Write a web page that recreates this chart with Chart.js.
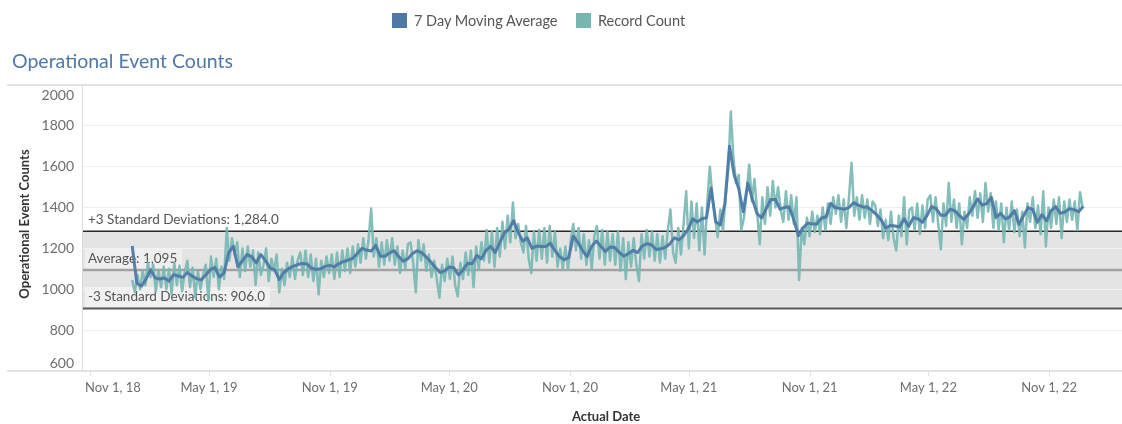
<!DOCTYPE html>
<html>
<head>
<meta charset="utf-8">
<title>Operational Event Counts</title>
<script src="https://cdn.jsdelivr.net/npm/chart.js@4.4.1/dist/chart.umd.min.js"></script>
<style>
  body { margin: 0; background: #fff; font-family: Lato, sans-serif; }
  #wrap { position: relative; width: 1122px; height: 424px; overflow: hidden; }
  #chart { position: absolute; left: 0; top: 0; }
  .title { position: absolute; left: 12px; top: 51px; font-size: 19.5px; line-height: 19px; color: #4e79a7; white-space: nowrap; }
  .legend-item { position: absolute; top: 14px; font-size: 14.5px; line-height: 14px; color: #555; white-space: nowrap; }
  .swatch { position: absolute; top: 13px; width: 15px; height: 15px; }
</style>
</head>
<body>
<div id="wrap">
  <canvas id="chart" width="1122" height="424"></canvas>
  <div class="swatch" style="left:392px; background:#4e79a7"></div>
  <div class="legend-item" style="left:414px">7 Day Moving Average</div>
  <div class="swatch" style="left:576px; background:#76b7b2"></div>
  <div class="legend-item" style="left:598px">Record Count</div>
  <div class="title">Operational Event Counts</div>
</div>
<script>
// x axis: tick dates and their labels
const xTickDates = ['2018-11-01', '2019-05-01', '2019-11-01', '2020-05-01', '2020-11-01',
  '2021-05-01', '2021-11-01', '2022-05-01', '2022-11-01'];
const xTickLabels = ['Nov 1, 18', 'May 1, 19', 'Nov 1, 19', 'May 1, 20', 'Nov 1, 20',
  'May 1, 21', 'Nov 1, 21', 'May 1, 22', 'Nov 1, 22'];
const xRange = ['2018-10-21', '2023-02-20'];

// y axis ticks
const yTicks = [600, 800, 1000, 1200, 1400, 1600, 1800, 2000];

// first date of both series, and spacing between readings
const firstDate = '2019-01-04';
const movingAvgStepDays = 7;
const recordStepDays = 4;

// 7 day moving average (weekly readings)
const movingAverage = [
  1212, 1030, 1015, 1050, 1095, 1055, 1050, 1055, 1040, 1072,
  1065, 1058, 1082, 1065, 1052, 1046, 1070, 1096, 1106, 1060,
  1080, 1180, 1210, 1110, 1140, 1170, 1160, 1130, 1170, 1140,
  1105, 1095, 1048, 1082, 1100, 1112, 1121, 1126, 1124, 1104,
  1097, 1100, 1112, 1117, 1110, 1126, 1136, 1143, 1152, 1175,
  1200, 1192, 1187, 1215, 1162, 1162, 1178, 1189, 1160, 1137, 1150,
  1175, 1188, 1179, 1158, 1133, 1107, 1082, 1090, 1109, 1105,
  1070, 1095, 1127, 1125, 1165, 1150, 1190, 1210, 1180, 1228,
  1276, 1295, 1335, 1280, 1235, 1252, 1200, 1212, 1210, 1210,
  1225, 1190, 1160, 1145, 1155, 1260, 1230, 1190, 1160, 1210,
  1236, 1210, 1185, 1207, 1205, 1180, 1162, 1175, 1190, 1180,
  1212, 1223, 1218, 1195, 1198, 1205, 1222, 1252, 1242, 1262,
  1295, 1345, 1329, 1345, 1350, 1496, 1330, 1315, 1420, 1700,
  1560, 1492, 1380, 1520, 1440, 1370, 1350, 1395, 1440, 1440,
  1392, 1401, 1403, 1340, 1262, 1300, 1325, 1320, 1320, 1349,
  1354, 1420, 1400, 1396, 1392, 1400, 1424, 1412, 1403, 1403, 1385,
  1365, 1340, 1300, 1312, 1310, 1305, 1345, 1308, 1350, 1345,
  1328, 1362, 1405, 1395, 1362, 1362, 1392, 1385, 1362, 1342,
  1368, 1403, 1442, 1412, 1420, 1450, 1352, 1372, 1345, 1355,
  1385, 1318, 1360, 1400, 1390, 1328, 1365, 1335, 1385, 1405,
  1372, 1378, 1395, 1390, 1380, 1405
];

// record count (one reading every 4 days)
const recordCount = [
  1045, 985, 1070, 1000, 1090, 1020, 1130,
  1060, 1120, 990, 1095, 1010, 1110, 1000,
  1100, 975, 1130, 1020, 1115, 990, 1085,
  1140, 1010, 1105, 960, 1090, 1000, 1070,
  1120, 945, 1160, 1060, 1150, 1000, 1110,
  1050, 1300, 1140, 1250, 1170, 1230, 1060,
  1200, 1090, 1210, 1110, 1190, 1020, 1180, 1070,
  1120, 1200, 1040, 1150, 1090, 1170, 985,
  1100, 1020, 1130, 1060, 1160, 1050, 1140,
  1180, 1070, 1190, 1060, 1170, 1040, 1150,
  975, 1140, 1060, 1160, 1080, 1170, 1050,
  1180, 1060, 1190, 1090, 1200, 1080, 1210,
  1110, 1220, 1130, 1250, 1150, 1240, 1395,
  1160, 1250, 1110, 1230, 1120, 1240, 1140,
  1250, 1120, 1210, 1080, 1190, 1100, 1220,
  1230, 1130, 985, 1240, 1140, 1220, 1090,
  1170, 1060, 1140, 1050, 958, 1120, 1040,
  1150, 1050, 1160, 1020, 965, 1130, 1050,
  1180, 1070, 1190, 1010, 1210, 1100, 1230,
  1140, 1290, 1130, 1280, 1110, 1300, 1160,
  1330, 1200, 1360, 1230, 1425, 1250, 1320, 1230,
  1180, 1310, 1150, 1080, 1280, 1140, 1290,
  1150, 1300, 1130, 1310, 1160, 1280, 1110,
  1200, 1100, 1210, 1095, 1240, 1320, 1190,
  1300, 1150, 1270, 1120, 1240, 1100, 1260,
  1310, 1150, 1290, 1120, 1280, 1140, 1270,
  1120, 1280, 1090, 1250, 1050, 1230, 1110,
  1250, 1120, 1040, 1270, 1150, 1290, 1160,
  1280, 1140, 1270, 1130, 1260, 1150, 1290,
  1390, 1180, 1130, 1300, 1170, 1320, 1480,
  1200, 1430, 1250, 1420, 1190, 1400, 1170,
  1420, 1600, 1450, 1350, 1255, 1390, 1290,
  1450, 1580, 1870, 1640, 1520, 1560, 1290,
  1350, 1470, 1610, 1430, 1540, 1380, 1220,
  1450, 1320, 1500, 1360, 1530, 1400, 1500, 1390,
  1330, 1480, 1340, 1460, 1320, 1450, 1045,
  1300, 1220, 1350, 1260, 1380, 1280, 1360,
  1270, 1400, 1290, 1420, 1320, 1450, 1370,
  1460, 1330, 1440, 1300, 1450, 1620, 1360,
  1450, 1340, 1460, 1350, 1440, 1320, 1430,
  1410, 1310, 1390, 1250, 1340, 1240, 1380,
  1250, 1190, 1360, 1260, 1450, 1220, 1390,
  1400, 1290, 1420, 1270, 1410, 1300, 1440,
  1460, 1330, 1450, 1320, 1195, 1420, 1310,
  1520, 1330, 1440, 1300, 1420, 1220, 1380,
  1300, 1450, 1360, 1480, 1350, 1470, 1330,
  1520, 1380, 1470, 1300, 1430, 1290, 1420,
  1230, 1400, 1290, 1430, 1280, 1390, 1260, 1380,
  1205, 1420, 1330, 1450, 1300, 1410, 1270,
  1480, 1210, 1400, 1300, 1440, 1320, 1450,
  1250, 1430, 1330, 1440, 1340, 1430, 1290,
  1475, 1400
];

// reference lines: +3 SD, average, -3 SD
const refValues = [1284.0, 1095, 906.0];
const refLabels = ['+3 Standard Deviations: 1,284.0', 'Average: 1,095', '-3 Standard Deviations: 906.0'];

const DAY = 86400000;
const origin = Date.UTC(2018, 10, 1);
function dayOf(s) {
  const [y, m, d] = s.split('-').map(Number);
  return (Date.UTC(y, m - 1, d) - origin) / DAY;
}

const start = dayOf(firstDate);
const maPoints = movingAverage.map((v, i) => ({ x: start + i * movingAvgStepDays, y: v }));
const recPoints = recordCount.map((v, i) => ({ x: start + i * recordStepDays, y: v }));

const refStyles = [
  { line: '#2a2a2a', width: 1.5, box: '#ffffff' },
  { line: '#a2a2a2', width: 2.5, box: '#efefef' },
  { line: '#5a5a5a', width: 2, box: '#f1f1f1' }
];

const frame = {
  id: 'frame',
  beforeDraw(chart) {
    const { ctx, chartArea: a, scales: { y } } = chart;
    const top = y.getPixelForValue(refValues[0]);
    const bot = y.getPixelForValue(refValues[2]);
    ctx.save();
    ctx.fillStyle = '#e4e4e4';
    ctx.fillRect(a.left, top, a.right - a.left, bot - top);
    ctx.restore();
  },
  beforeDatasetsDraw(chart) {
    const { ctx, chartArea: a, scales: { y } } = chart;
    ctx.save();
    ctx.font = '13.5px Lato';
    ctx.textBaseline = 'middle';
    refValues.forEach((v, i) => {
      const py = y.getPixelForValue(v);
      const st = refStyles[i];
      // label box sits just above its line
      const w = ctx.measureText(refLabels[i]).width;
      const boxBottom = Math.round(py) - 1;
      ctx.fillStyle = st.box;
      ctx.fillRect(a.left + 2, boxBottom - 20, w + 8, 20);
      ctx.fillStyle = '#555';
      ctx.fillText(refLabels[i], a.left + 5, boxBottom - 10);
      ctx.strokeStyle = st.line;
      ctx.lineWidth = st.width;
      ctx.beginPath();
      ctx.moveTo(a.left, py);
      ctx.lineTo(a.right, py);
      ctx.stroke();
    });
    ctx.restore();
  },
  afterDraw(chart) {
    const { ctx, chartArea: a, scales: { x, y } } = chart;
    ctx.save();
    // frame lines
    ctx.strokeStyle = '#d9d9d9';
    ctx.lineWidth = 1.5;
    ctx.beginPath();
    ctx.moveTo(7, a.top); ctx.lineTo(a.right, a.top);
    ctx.moveTo(7, a.bottom); ctx.lineTo(a.right, a.bottom);
    ctx.stroke();
    ctx.lineWidth = 1;
    ctx.strokeStyle = '#dadada';
    ctx.beginPath();
    ctx.moveTo(a.left - 0.5, a.top); ctx.lineTo(a.left - 0.5, a.bottom);
    ctx.stroke();

    // y tick labels
    ctx.fillStyle = '#6e6e6e';
    ctx.font = '14px Lato';
    ctx.textAlign = 'right';
    ctx.textBaseline = 'middle';
    yTicks.forEach(v => {
      let py = y.getPixelForValue(v);
      py = Math.min(Math.max(py, a.top + 10), a.bottom - 8);
      ctx.fillText(String(v), 74, py);
    });

    // x tick marks and labels
    ctx.font = '13px Lato';
    ctx.textAlign = 'left';
    ctx.strokeStyle = '#e2e2e2';
    xTickDates.forEach((d, i) => {
      const px = x.getPixelForValue(dayOf(d));
      ctx.beginPath();
      ctx.moveTo(Math.round(px) + 0.5, a.bottom + 1);
      ctx.lineTo(Math.round(px) + 0.5, a.bottom + 5);
      ctx.stroke();
      const w = ctx.measureText(xTickLabels[i]).width;
      let left = px - w / 2;
      if (left < a.left + 2) left = a.left + 2;
      if (left + w > a.right) left = a.right - w;
      ctx.fillText(xTickLabels[i], left, 388);
    });

    // axis titles
    ctx.fillStyle = '#333';
    ctx.font = 'bold 13px Lato';
    ctx.textAlign = 'center';
    ctx.fillText('Actual Date', 606, 417);
    ctx.translate(25, 224);
    ctx.rotate(-Math.PI / 2);
    ctx.fillText('Operational Event Counts', 0, 0);
    ctx.restore();
  }
};

new Chart(document.getElementById('chart'), {
  type: 'line',
  data: {
    datasets: [
      {
        label: '7 Day Moving Average',
        data: maPoints,
        borderColor: 'rgba(78, 121, 167, 0.95)',
        borderWidth: 3,
        borderJoinStyle: 'round',
        pointRadius: 0,
        tension: 0
      },
      {
        label: 'Record Count',
        data: recPoints,
        borderColor: 'rgba(118, 183, 178, 0.9)',
        borderWidth: 2.5,
        borderJoinStyle: 'round',
        pointRadius: 0,
        tension: 0
      }
    ]
  },
  options: {
    responsive: false,
    animation: false,
    layout: { padding: { left: 83, top: 85, right: 0, bottom: 53 } },
    plugins: { legend: { display: false }, tooltip: { enabled: false } },
    scales: {
      x: {
        type: 'linear',
        min: dayOf(xRange[0]),
        max: dayOf(xRange[1]),
        ticks: { display: false },
        grid: { display: false },
        border: { display: false },
        afterFit: s => { s.height = 0; }
      },
      y: {
        min: yTicks[0],
        max: yTicks[yTicks.length - 1],
        ticks: { display: false, stepSize: 200 },
        grid: {
          drawTicks: false,
          color: c => {
            const v = c.tick.value;
            if (v === yTicks[0] || v === yTicks[yTicks.length - 1]) return 'rgba(0,0,0,0)';
            return (v > refValues[2] && v < refValues[0]) ? '#f2f2f2' : '#efefef';
          }
        },
        border: { display: false },
        afterFit: s => { s.width = 0; }
      }
    }
  },
  plugins: [frame]
});
</script>
</body>
</html>
